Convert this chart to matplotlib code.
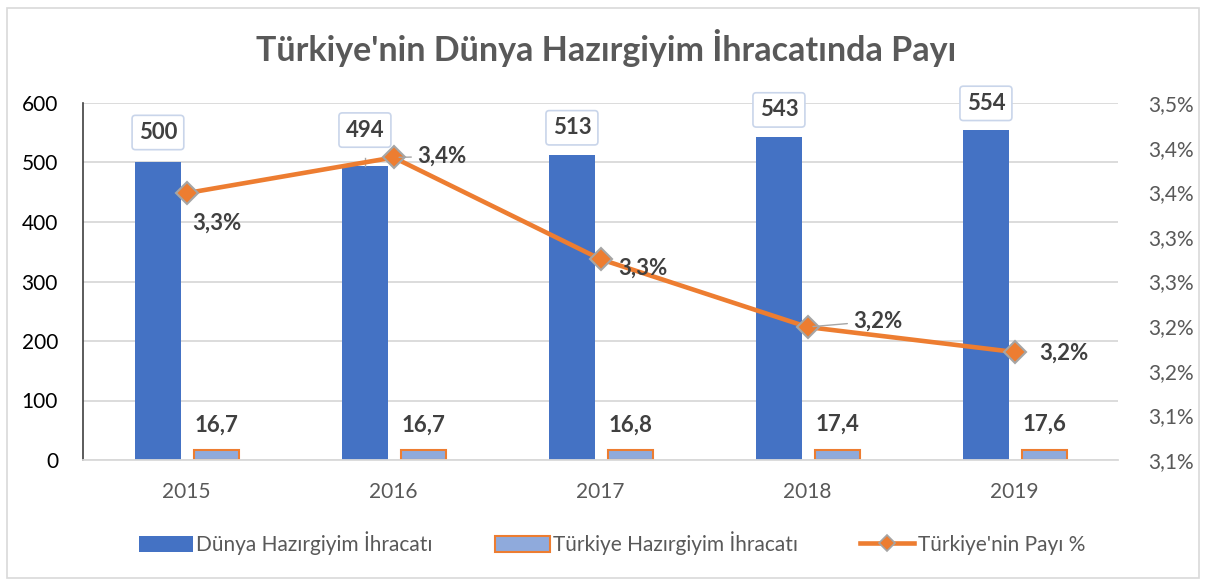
import numpy as np
import matplotlib
matplotlib.use("Agg")
import matplotlib.pyplot as plt
from matplotlib.patches import Rectangle

plt.rcParams['font.family'] = ['Lato', 'DejaVu Sans']

# veriler
years = ['2015', '2016', '2017', '2018', '2019']
dunya = [500, 494, 513, 543, 554]
turkiye = [16.7, 16.7, 16.8, 17.4, 17.6]
turkiye_labels = ['16,7', '16,7', '16,8', '17,4', '17,6']
pay = [3.399, 3.439, 3.325, 3.249, 3.221]
pay_labels = ['3,3%', '3,4%', '3,3%', '3,2%', '3,2%']
right_ticks = ['3,1%', '3,1%', '3,2%', '3,2%', '3,3%', '3,3%', '3,4%', '3,4%', '3,5%']
left_ticks = [0, 100, 200, 300, 400, 500, 600]

BLUE = '#4472C4'
ORANGE = '#ED7D31'
LIGHT = '#8FAADC'
GRID = '#D9D9D9'
TXT = '#404040'
GRAY = '#595959'

fig = plt.figure(figsize=(12.06, 5.84), dpi=100)
ax = fig.add_axes([83 / 1206, 1 - 460 / 584, (1118 - 83) / 1206, (460 - 103) / 584])
ax2 = ax.twinx()

x = np.arange(len(years))
w = 0.222
ax.bar(x - 0.138, dunya, w, color=BLUE, zorder=2)
ax.bar(x + 0.145, turkiye, w, color=LIGHT, edgecolor=ORANGE, linewidth=1.5, zorder=2)

ax.set_xlim(-0.5, 4.5)
ax.set_ylim(0, 600)
ax.set_yticks(left_ticks)
ax.grid(axis='y', color=GRID, linewidth=1.3, zorder=0)
ax.set_axisbelow(True)
for s in ['top', 'right']:
    ax.spines[s].set_visible(False)
ax.spines['bottom'].set_color(GRID)
ax.spines['bottom'].set_linewidth(1.3)
ax.spines['left'].set_color('#404040')
ax.spines['left'].set_linewidth(1.2)
ax.set_xticks(x)
ax.set_xticklabels(years)
ax.tick_params(axis='x', length=0, pad=16, labelsize=15, labelcolor=GRAY)
ax.tick_params(axis='y', length=0, pad=18, labelsize=15, labelcolor='black')

# dünya etiketleri (kutulu)
bar_off = [30, 36, 27, 27, 27]
for i, v in enumerate(dunya):
    ax.annotate(str(v), (x[i] - 0.138, v), xytext=(0, bar_off[i]), textcoords='offset pixels',
                ha='center', va='center', fontsize=16, fontweight='bold', color=TXT,
                bbox=dict(boxstyle='round,pad=0.3,rounding_size=0.15', fc='white', ec='#C9D5EA', lw=1.2),
                zorder=5)
    if i == 1:
        ax.plot([x[i] - 0.138] * 2, [v, v + 13], color='#A6A6A6', lw=1, zorder=4)

for i, v in enumerate(turkiye):
    ax.annotate(turkiye_labels[i], (x[i] + 0.145, v), xytext=(0, 25), textcoords='offset pixels',
                ha='center', va='center', fontsize=16, fontweight='bold', color=TXT, zorder=5)

# pay çizgisi
ax2.plot(x, pay, color=ORANGE, lw=3.3, marker='D', markersize=11,
         markerfacecolor=ORANGE, markeredgecolor='#A5A5A5', markeredgewidth=1.5, zorder=6)
ax2.set_ylim(3.10, 3.50)
ax2.set_yticks(np.linspace(3.10, 3.50, 9))
ax2.set_yticklabels(right_ticks)
ax2.tick_params(axis='y', length=0, pad=22, labelsize=15, labelcolor=GRAY)
for s in ['top', 'right', 'left', 'bottom']:
    ax2.spines[s].set_visible(False)

pay_off = [(30, -30), (48, 1), (42, -9), (70, 6), (49, -1)]
for i, v in enumerate(pay):
    leader = i in (1, 3)
    ax2.annotate(pay_labels[i], (x[i], v), xytext=pay_off[i], textcoords='offset pixels',
                 ha='center', va='center', fontsize=16, fontweight='bold', color=TXT, zorder=7,
                 arrowprops=dict(arrowstyle='-', color='#A6A6A6', lw=1, shrinkA=2, shrinkB=4) if leader else None)

fig.text(606 / 1206, 1 - 48 / 584, "Türkiye'nin Dünya Hazırgiyim İhracatında Payı",
         ha='center', va='center', fontsize=24.5, fontweight='bold', color=GRAY)

# lejant
h1 = plt.Rectangle((0, 0), 1, 1, fc=BLUE)
h2 = plt.Rectangle((0, 0), 1, 1, fc=LIGHT, ec=ORANGE, lw=1.5)
h3 = plt.Line2D([], [], color=ORANGE, lw=3.3, marker='D', markersize=8,
                markerfacecolor=ORANGE, markeredgecolor='#A5A5A5', markeredgewidth=1.2)
fig.legend([h1, h2, h3], ['Dünya Hazırgiyim İhracatı', 'Türkiye Hazırgiyim İhracatı', "Türkiye'nin Payı %"],
           loc='center', bbox_to_anchor=(612 / 1206, 1 - 543 / 584), ncol=3, frameon=False,
           fontsize=15, handlelength=2.6, handleheight=0.8, handletextpad=0.15, columnspacing=3.0,
           labelcolor=GRAY)

fig.patches.append(Rectangle((7 / 1206, 6 / 584), 1192 / 1206, 570 / 584, transform=fig.transFigure,
                             fill=False, ec=GRID, lw=1.2))

fig.savefig('out.png', dpi=100)
